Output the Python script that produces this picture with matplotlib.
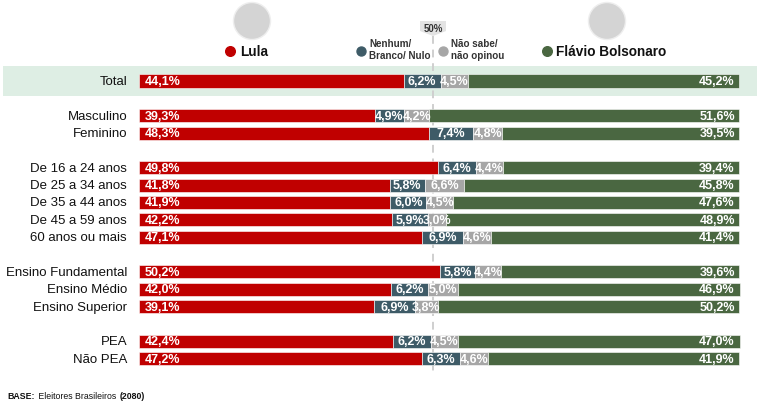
import matplotlib
matplotlib.use("Agg")
import matplotlib.pyplot as plt
from matplotlib.patches import Polygon, Rectangle, Ellipse

plt.rcParams['font.family'] = ['Liberation Sans', 'DejaVu Sans']

categories = ["Total", "Masculino", "Feminino", "De 16 a 24 anos", "De 25 a 34 anos",
              "De 35 a 44 anos", "De 45 a 59 anos", "60 anos ou mais",
              "Ensino Fundamental", "Ensino Médio", "Ensino Superior", "PEA", "Não PEA"]
slots = [0, 2, 3, 5, 6, 7, 8, 9, 11, 12, 13, 15, 16]
lula = [44.1, 39.3, 48.3, 49.8, 41.8, 41.9, 42.2, 47.1, 50.2, 42.0, 39.1, 42.4, 47.2]
nenhum = [6.2, 4.9, 7.4, 6.4, 5.8, 6.0, 5.9, 6.9, 5.8, 6.2, 6.9, 6.2, 6.3]
nao_sabe = [4.5, 4.2, 4.8, 4.4, 6.6, 4.5, 3.0, 4.6, 4.4, 5.0, 3.8, 4.5, 4.6]
flavio = [45.2, 51.6, 39.5, 39.4, 45.8, 47.6, 48.9, 41.4, 39.6, 46.9, 50.2, 47.0, 41.9]

RED = "#c00000"
TEAL = "#3e5b67"
GRAY = "#a6a6a6"
GREEN = "#4a6741"
BAND = "#deeee4"

W, H = 781, 406
fig = plt.figure(figsize=(W / 100, H / 100), dpi=100)
ax = fig.add_axes([0, 0, 1, 1])
X0, PXU = 139.0, 6.0          # pixel of 0%, pixels per 1%
Y0, PXS = 82.0, 17.35         # pixel of slot 0, pixels per slot
ax.set_xlim(-X0 / PXU, (W - X0) / PXU)
ax.set_ylim((H - Y0) / PXS, -Y0 / PXS)
ax.axis("off")

def px(x):
    return (x - X0) / PXU

def py(y):
    return (y - Y0) / PXS

def fmt(v):
    return f"{v:.1f}".replace(".", ",") + "%"

# highlighted Total band
ax.add_patch(Rectangle((px(3), py(67)), px(757) - px(3), py(97) - py(67),
                       facecolor=BAND, edgecolor="none", zorder=0))

# 50% reference line
mid = px(433)
ax.plot([mid, mid], [py(37), py(373)], color="#cfcfcf", lw=1.4,
        ls=(0, (4, 3)), zorder=1)
ax.add_patch(Polygon([(px(420), py(22)), (px(446), py(22)), (px(446), py(32)),
                      (px(433), py(37)), (px(420), py(32))],
                     closed=True, facecolor="#e3e3e3", edgecolor="none", zorder=2))
ax.text(mid, py(29), "50%", ha="center", va="center", fontsize=7,
        fontweight="bold", color="#333333", zorder=3)

bh = 0.75
series = [(lula, RED), (nenhum, TEAL), (nao_sabe, GRAY), (flavio, GREEN)]
left = [0.0] * len(categories)
for vals, col in series:
    ax.barh(slots, vals, left=left, height=bh, color=col,
            edgecolor="white", linewidth=0.4, zorder=3)
    left = [l + v for l, v in zip(left, vals)]

VFS = 9.0
for i, s in enumerate(slots):
    ax.text(-2.0, s, categories[i], ha="right", va="center", fontsize=9.5,
            color="#111111")
    ax.text(1.0, s, fmt(lula[i]), ha="left", va="center", fontsize=VFS,
            fontweight="bold", color="white", zorder=4)
    c1 = lula[i] + nenhum[i] / 2
    ax.text(c1, s, fmt(nenhum[i]), ha="center", va="center", fontsize=VFS,
            fontweight="bold", color="white", zorder=4)
    c2 = lula[i] + nenhum[i] + nao_sabe[i] / 2
    ax.text(c2, s, fmt(nao_sabe[i]), ha="center", va="center", fontsize=VFS,
            fontweight="bold", color="white", zorder=4)
    ax.text(99.3, s, fmt(flavio[i]), ha="right", va="center", fontsize=VFS,
            fontweight="bold", color="white", zorder=4)

# header legend
def dot(xp, yp, col, s=42):
    ax.scatter([px(xp)], [py(yp)], s=s, color=col, zorder=5, clip_on=False)

dot(230, 52, RED, 48)
ax.text(px(240), py(52), "Lula", ha="left", va="center", fontsize=9.8,
        fontweight="bold", color="#111111")
dot(361, 52, TEAL)
ax.text(px(369), py(50), "Nenhum/\nBranco/ Nulo", ha="left", va="center",
        fontsize=7.1, fontweight="bold", color="#333333", linespacing=1.2)
dot(443, 52, GRAY)
ax.text(px(451), py(50), "Não sabe/\nnão opinou", ha="left", va="center",
        fontsize=7.1, fontweight="bold", color="#333333", linespacing=1.2)
dot(547, 52, GREEN, 48)
ax.text(px(556), py(52), "Flávio Bolsonaro", ha="left", va="center",
        fontsize=9.8, fontweight="bold", color="#111111")

# portrait placeholders
for cx in (252, 607):
    ax.add_patch(Ellipse((px(cx), py(22)), 37 / PXU, 37 / PXS,
                         facecolor="#d4d4d4", edgecolor="#eeeeee", lw=1, zorder=2))

# footer, pieces laid out one after another
fig.canvas.draw()
renderer = fig.canvas.get_renderer()
xcur = 7.0
for txt, wt in [("BASE:", "bold"), (" Eleitores Brasileiros ", "normal"), ("(2080)", "bold")]:
    t = fig.text(xcur / W, 1 - 397 / H, txt, ha="left", va="center",
                 fontsize=6.3, fontweight=wt, color="#111111")
    bb = t.get_window_extent(renderer=renderer)
    xcur += bb.width + (2.0 if txt == "BASE:" else 0.0)

fig.savefig("out.png", dpi=100)
